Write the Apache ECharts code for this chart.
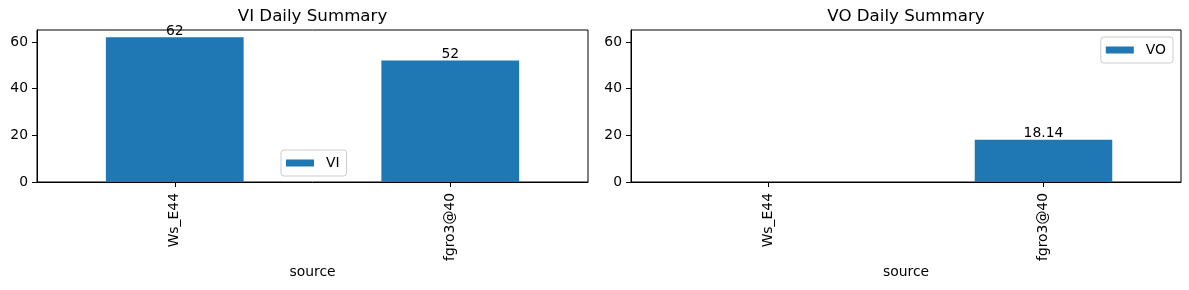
<!DOCTYPE html>
<html>
<head>
<meta charset="utf-8">
<script src="https://cdn.jsdelivr.net/npm/echarts@6/dist/echarts.min.js"></script>
<style>
html,body{margin:0;padding:0;background:#fff;}
#chart{width:1189px;height:290px;}
</style>
</head>
<body>
<div id="chart"></div>
<script>
const categories = ['Ws_E44', 'fgro3@40'];
const viValues = [62, 52];
const voValues = [null, 18.14];
const yTicks = [0, 20, 40, 60];
const yMax = 65.1;
const titles = ['VI Daily Summary', 'VO Daily Summary'];
const seriesNames = ['VI', 'VO'];
const xName = 'source';

const FONT = 'DejaVu Sans';
const BLUE = '#1f77b4';
const grids = [
  {left: 37, top: 30, width: 551, height: 152},
  {left: 631, top: 30, width: 550, height: 152}
];

function xAxis(i) {
  return {
    type: 'category', gridIndex: i, data: categories,
    name: xName, nameLocation: 'middle', nameGap: 83, nameMoveOverlap: false,
    nameTextStyle: {fontFamily: FONT, fontSize: 13.9, color: '#000'},
    axisLine: {show: true, lineStyle: {color: '#000', width: 1}},
    axisTick: {show: true, alignWithLabel: true, length: 5, lineStyle: {color: '#000', width: 1}},
    axisLabel: {rotate: 90, margin: 11, fontFamily: FONT, fontSize: 13.9, color: '#000'},
    splitLine: {show: false}
  };
}
function yAxis(i) {
  return {
    type: 'value', gridIndex: i, min: 0, max: yMax, interval: 20,
    axisLine: {show: true, lineStyle: {color: '#000', width: 1}},
    axisTick: {show: true, length: 5, customValues: yTicks, lineStyle: {color: '#000', width: 1}},
    axisLabel: {margin: 9, fontFamily: FONT, fontSize: 13.9, color: '#000', customValues: yTicks},
    splitLine: {show: false}
  };
}
function series(i, vals) {
  return {
    type: 'bar', name: seriesNames[i], xAxisIndex: i, yAxisIndex: i,
    data: vals, barWidth: '50%', itemStyle: {color: BLUE},
    label: {show: true, position: 'top', distance: -1, fontFamily: FONT, fontSize: 13.9, color: '#000',
      formatter: p => String(p.value)}
  };
}
function legend(i, pos) {
  return Object.assign({
    data: [seriesNames[i]], orient: 'vertical', icon: 'rect',
    itemWidth: 28, itemHeight: 7,
    padding: [5, 7, 5, 5],
    borderColor: '#cccccc', borderWidth: 1, borderRadius: 3,
    backgroundColor: 'rgba(255,255,255,0.8)',
    textStyle: {fontFamily: FONT, fontSize: 13.9, color: '#000', padding: [0, 0, 0, 7], lineHeight: 16}
  }, pos);
}

const chart = echarts.init(document.getElementById('chart'), null, {renderer: 'canvas'});
chart.setOption({
  animation: false,
  backgroundColor: '#fff',
  grid: grids.map(g => Object.assign({show: true, borderColor: '#000', borderWidth: 1, backgroundColor: 'transparent', containLabel: false}, g)),
  xAxis: [xAxis(0), xAxis(1)],
  yAxis: [yAxis(0), yAxis(1)],
  series: [series(0, viValues), series(1, voValues)],
  legend: [legend(0, {left: 281, top: 150}), legend(1, {right: 16, top: 37})],
  graphic: titles.map((t, i) => ({
    type: 'text', x: grids[i].left + grids[i].width / 2, y: 17,
    style: {text: t, fontFamily: FONT, fontSize: 16.67, fill: '#000', align: 'center', verticalAlign: 'middle'}
  }))
});
</script>
</body>
</html>
